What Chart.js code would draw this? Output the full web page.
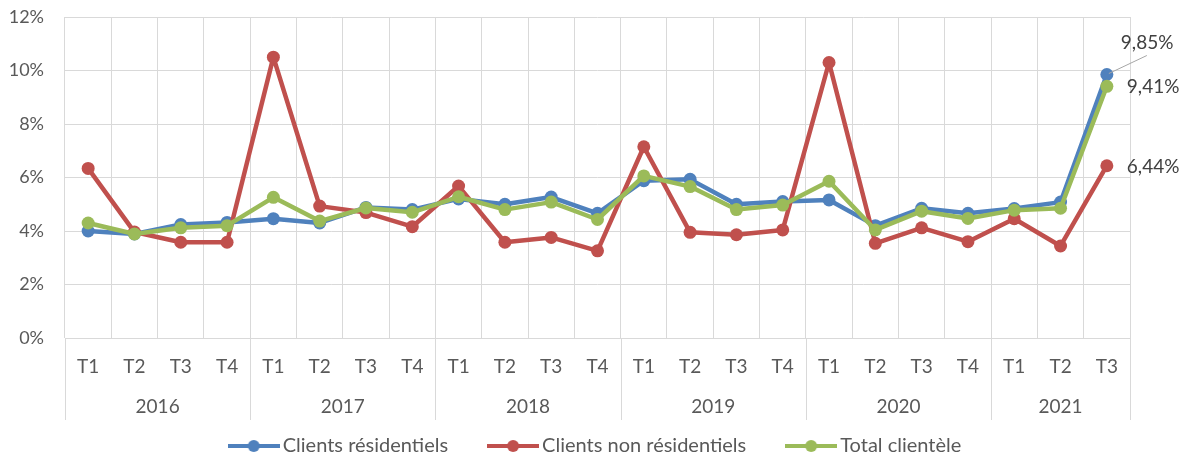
<!DOCTYPE html>
<html>
<head>
<meta charset="utf-8">
<script src="https://cdn.jsdelivr.net/npm/chart.js@4/dist/chart.umd.min.js"></script>
<style>
  html, body { margin: 0; padding: 0; background: #ffffff; }
  #wrap { position: relative; width: 1185px; height: 456px; }
</style>
</head>
<body>
<div id="wrap"><canvas id="c" width="1185" height="456"></canvas></div>
<script>
// ---- Data ----
const years = ['2016', '2017', '2018', '2019', '2020', '2021'];
const quartersPerYear = [4, 4, 4, 4, 4, 3];
const quarterNames = ['T1', 'T2', 'T3', 'T4'];

const seriesNames = ['Clients résidentiels', 'Clients non résidentiels', 'Total clientèle'];

const residentiels = [4.00, 3.89, 4.24, 4.32, 4.46, 4.30, 4.88, 4.80,
                      5.20, 5.00, 5.27, 4.66, 5.88, 5.93, 5.00, 5.10,
                      5.16, 4.20, 4.85, 4.66, 4.84, 5.08, 9.85];
const nonResidentiels = [6.34, 3.96, 3.58, 3.58, 10.50, 4.93, 4.69, 4.16,
                         5.68, 3.58, 3.76, 3.26, 7.15, 3.95, 3.86, 4.04,
                         10.30, 3.54, 4.12, 3.60, 4.46, 3.44, 6.44];
const totalClientele = [4.30, 3.89, 4.12, 4.20, 5.26, 4.37, 4.86, 4.70,
                        5.28, 4.80, 5.08, 4.43, 6.06, 5.66, 4.80, 4.97,
                        5.86, 4.04, 4.74, 4.47, 4.78, 4.85, 9.41];

const lastLabels = ['9,85%', '6,44%', '9,41%'];
const yTicks = [0, 2, 4, 6, 8, 10, 12];

// ---- Build categories ----
const categories = [];
const yearStart = [];
years.forEach((y, yi) => {
  yearStart.push(categories.length);
  for (let q = 0; q < quartersPerYear[yi]; q++) categories.push(quarterNames[q]);
});

// ---- Styling ----
const FONT = 'Lato, "Open Sans", sans-serif';
const FS = 18;
const FS_X = 19;
const FS_LEG = 20;
const TEXT = '#595959';
const GRID = '#d9d9d9';
const COLORS = ['#4f81bd', '#c0504d', '#9bbb59'];

const LEG_PAD = 46;
const LEG_BOX = 38;
const PLOT_TOP = 17;
const PLOT_BOTTOM = 338;
const LEGEND_CENTER = 446;
const LEGEND_DX = 33;
const legendHeight = FS_LEG + LEG_PAD + 10;
const xAxisHeight = 456 - legendHeight - PLOT_BOTTOM;
const legendShift = LEGEND_CENTER - (456 - 10 - FS_LEG / 2);

function makeMarker(color) {
  const c = document.createElement('canvas');
  c.width = 52; c.height = 14;
  const g = c.getContext('2d');
  g.strokeStyle = color; g.lineWidth = 4;
  g.beginPath(); g.moveTo(0, 7); g.lineTo(52, 7); g.stroke();
  g.fillStyle = color;
  g.beginPath(); g.arc(26, 7, 6, 0, Math.PI * 2); g.fill();
  return c;
}
const markers = COLORS.map(makeMarker);

const legendShiftPlugin = {
  id: 'legendShift',
  afterLayout(chart) {
    const lg = chart.legend;
    if (lg) {
      lg.top += legendShift; lg.bottom += legendShift;
      lg.left += LEGEND_DX; lg.right += LEGEND_DX;
    }
  }
};

const yearPlugin = {
  id: 'yearAxis',
  afterDraw(chart) {
    const x = chart.scales.x;
    const area = chart.chartArea;
    const ctx = chart.ctx;
    const half = (x.getPixelForValue(1) - x.getPixelForValue(0)) / 2;
    ctx.save();
    ctx.strokeStyle = GRID;
    ctx.lineWidth = 1;
    const bounds = yearStart.map(i => x.getPixelForValue(i) - half);
    bounds.push(x.getPixelForValue(categories.length - 1) + half);
    bounds.forEach(b => {
      const px = Math.round(b) + 0.5;
      ctx.beginPath(); ctx.moveTo(px, area.bottom); ctx.lineTo(px, 420); ctx.stroke();
    });
    ctx.fillStyle = TEXT;
    ctx.font = FS_X + 'px ' + FONT;
    ctx.textAlign = 'center';
    ctx.textBaseline = 'middle';
    years.forEach((y, i) => {
      ctx.fillText(y, (bounds[i] + bounds[i + 1]) / 2, 407);
    });
    ctx.restore();
  }
};

const labelPlugin = {
  id: 'lastLabels',
  afterDatasetsDraw(chart) {
    const ctx = chart.ctx;
    ctx.save();
    ctx.font = FS_X + 'px ' + FONT;
    ctx.fillStyle = '#404040';
    ctx.textBaseline = 'middle';
    ctx.textAlign = 'left';
    chart.data.datasets.forEach((ds, di) => {
      const meta = chart.getDatasetMeta(di);
      const pt = meta.data[meta.data.length - 1];
      if (!pt) return;
      if (di === 0) {
        ctx.strokeStyle = '#a6a6a6';
        ctx.lineWidth = 1;
        ctx.beginPath(); ctx.moveTo(pt.x + 2, pt.y - 1); ctx.lineTo(pt.x + 40, pt.y - 19); ctx.stroke();
        ctx.fillText(lastLabels[di], pt.x + 14, pt.y - 32);
      } else {
        ctx.fillText(lastLabels[di], pt.x + 20, pt.y + 1);
      }
    });
    ctx.restore();
  }
};

function ds(i, data, order) {
  return {
    label: seriesNames[i],
    data: data,
    borderColor: COLORS[i],
    backgroundColor: COLORS[i],
    pointBackgroundColor: COLORS[i],
    pointBorderColor: COLORS[i],
    borderWidth: 4.5,
    borderJoinStyle: 'round',
    borderCapStyle: 'round',
    pointRadius: 6.5,
    pointBorderWidth: 0,
    pointHoverRadius: 6.5,
    tension: 0,
    order: order
  };
}

new Chart(document.getElementById('c'), {
  type: 'line',
  data: {
    labels: categories,
    datasets: [
      ds(0, residentiels, 3),
      ds(1, nonResidentiels, 2),
      ds(2, totalClientele, 1)
    ]
  },
  options: {
    responsive: false,
    animation: false,
    devicePixelRatio: 1,
    layout: { padding: { top: PLOT_TOP, right: 55, left: 0, bottom: 0 } },
    plugins: {
      tooltip: { enabled: false },
      legend: {
        position: 'bottom',
        labels: {
          usePointStyle: true,
          pointStyleWidth: LEG_BOX,
          padding: LEG_PAD,
          color: TEXT,
          font: { family: FONT, size: FS_LEG },
          sort: (a, b) => a.datasetIndex - b.datasetIndex,
          generateLabels(chart) {
            const items = Chart.defaults.plugins.legend.labels.generateLabels(chart);
            return items.map(it => Object.assign(it, { pointStyle: markers[it.datasetIndex] }));
          }
        }
      }
    },
    scales: {
      x: {
        offset: true,
        grid: { color: GRID, lineWidth: 1, offset: true, drawTicks: false },
        border: { color: GRID, width: 1 },
        ticks: { color: TEXT, font: { family: FONT, size: FS_X }, padding: 17, maxRotation: 0, autoSkip: false },
        afterFit(scale) { scale.height = xAxisHeight; }
      },
      y: {
        min: 0, max: 12,
        afterBuildTicks(scale) { scale.ticks = yTicks.map(v => ({ value: v })); },
        grid: { color: GRID, lineWidth: 1, drawTicks: true, tickLength: 21, tickColor: 'rgba(0,0,0,0)' },
        border: { display: false },
        ticks: {
          color: TEXT, font: { family: FONT, size: FS }, padding: 0,
          callback: v => v + '%'
        },
        afterFit(scale) { scale.width = 65; }
      }
    }
  },
  plugins: [legendShiftPlugin, yearPlugin, labelPlugin]
});
</script>
</body>
</html>
